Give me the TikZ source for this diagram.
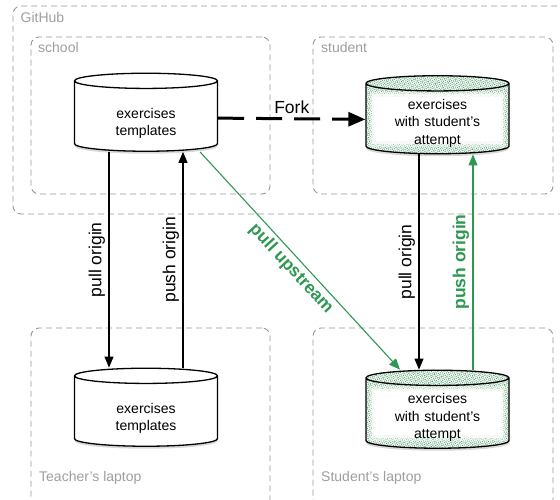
\documentclass[tikz,border=0pt]{standalone}
\usepackage{fontspec}
\setmainfont{Liberation Sans}
\usetikzlibrary{shapes.geometric,arrows.meta,shadows,patterns.meta}

\definecolor{gitgreen}{RGB}{46,152,82}
\definecolor{zonegray}{RGB}{150,150,150}
\definecolor{taggray}{RGB}{158,158,158}

\tikzset{
  zone/.style={draw=zonegray, dash pattern=on 6pt off 4pt, rounded corners=8pt, line width=0.9pt},
  tag/.style={text=taggray, font=\fontsize{14}{16}\selectfont, anchor=base west, inner sep=0pt},
  repo/.style={cylinder, shape border rotate=90, aspect=0.12, draw, line width=1.3pt,
    minimum width=143pt, minimum height=78pt, inner ysep=1pt,
    text width=120pt, align=center, font=\fontsize{14}{17.5}\selectfont,
    execute at begin node={\rule{0pt}{#1}},
    drop shadow={shadow xshift=0pt, shadow yshift=-2.5pt, opacity=0.3}, fill=white},
  repo/.default=22pt,
  % green speckle along the rim
  attempt/.style={repo=16pt, path picture={
    \fill[pattern={Dots[distance=2pt, radius=0.45pt, angle=17]}, pattern color=gitgreen]
      (path picture bounding box.south west) rectangle (path picture bounding box.north east);
    \fill[pattern={Dots[distance=1.7pt, radius=0.35pt, angle=-31]}, pattern color=gitgreen!80!black]
      (path picture bounding box.south west) rectangle (path picture bounding box.north east);
    \fill[white, opacity=0.4] ([shift={(4pt,7pt)}]path picture bounding box.south west)
      rectangle ([shift={(-4pt,-16pt)}]path picture bounding box.north east);
    \fill[white, opacity=0.75] ([shift={(6pt,10pt)}]path picture bounding box.south west)
      rectangle ([shift={(-6pt,-18.5pt)}]path picture bounding box.north east);
    \fill[white] ([shift={(8pt,13pt)}]path picture bounding box.south west)
      rectangle ([shift={(-8pt,-21pt)}]path picture bounding box.north east);
  }},
  flow/.style={-{Triangle[length=11pt,width=9pt]}, line width=1.1pt},
  lbl/.style={font=\fontsize{17.5}{20}\selectfont},
  lblb/.style={font=\fontsize{17.5}{20}\selectfont\bfseries},
}

\begin{document}
\begin{tikzpicture}[x=1pt,y=-1pt]
  \useasboundingbox (0,0) rectangle (560,499);

  % areas
  \node[zone, minimum width=562pt, minimum height=208pt] (github) at (294,110) {};
  \node[zone, minimum width=239pt, minimum height=157pt] (school) at (150.5,115.5) {};
  \node[zone, minimum width=240pt, minimum height=157pt] (student) at (433,115.5) {};
  \node[zone, minimum width=239pt, minimum height=192pt] (tlaptop) at (150.5,424) {};
  \node[zone, minimum width=240pt, minimum height=192pt] (slaptop) at (433,424) {};
  \node[tag] (githubtag) at (20.5,22) {GitHub};
  \node[tag] (schooltag) at (38,52) {school};
  \node[tag] (studenttag) at (321,52) {student};
  \node[tag] (tlaptoptag) at (39,481) {Teacher’s laptop};
  \node[tag] (slaptoptag) at (321,481) {Student’s laptop};

  % repos
  \node[repo] (sch) at (146,117.5) {exercises\\templates};
  \node[repo] (tch) at (146,412.5) {exercises\\templates};
  \node[attempt] (stu) at (437.5,120) {exercises\\with student’s\\attempt};
  \node[attempt] (slp) at (437.5,414.5) {exercises\\with student’s\\attempt};

  % fork
  \draw[line width=3pt, dash pattern=on 26pt off 12pt, -{Triangle[length=17pt,width=14pt]}]
    (sch) -- (stu) node[midway, above, lbl] {Fork};

  % teacher
  \draw[flow] ([xshift=-37pt]sch.south) -- ([xshift=-37pt]tch.north)
    node[midway, rotate=90, above, lbl] {pull origin};
  \draw[flow] ([xshift=37pt]tch.north) -- ([xshift=37pt]sch.south)
    node[midway, rotate=90, above, lbl] {push origin};

  % student
  \draw[flow] ([xshift=-18.5pt]stu.south) -- ([xshift=-18.5pt]slp.north)
    node[midway, rotate=90, above, lbl] {pull origin};
  \draw[flow, gitgreen] ([xshift=35.5pt]slp.north) -- ([xshift=35.5pt]stu.south)
    node[midway, rotate=90, above, lblb] {push origin};
  \draw[flow, gitgreen] ([xshift=54pt]sch.south) -- ([xshift=-37.5pt]slp.north)
    node[midway, sloped, below, lblb] {pull upstream};
\end{tikzpicture}
\end{document}
